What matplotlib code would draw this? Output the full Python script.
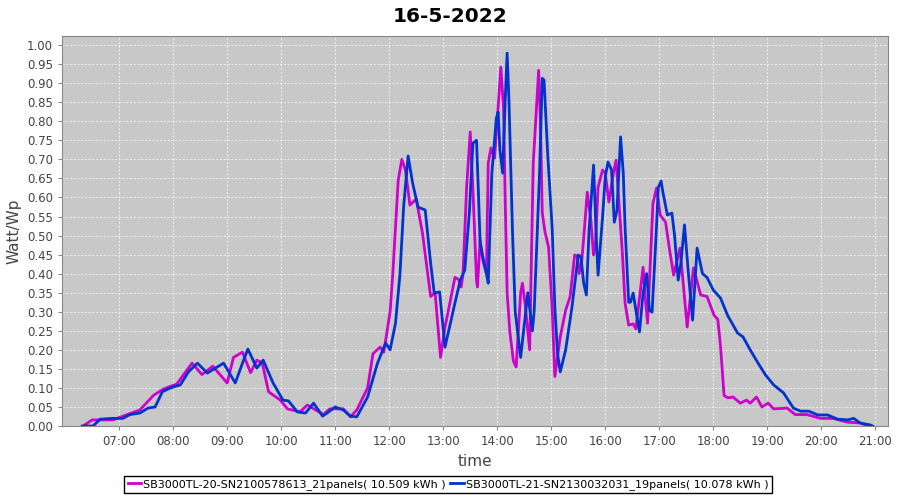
import matplotlib
matplotlib.use("Agg")
import matplotlib.pyplot as plt
import numpy as np

# SB3000TL-20 (magenta)
times_a = ["06:20", "06:30", "06:53", "07:09", "07:23", "07:38", "07:49", "08:04", "08:21", "08:32",
           "08:44", "09:00", "09:07", "09:17", "09:26", "09:33", "09:39", "09:46", "09:59", "10:07",
           "10:21", "10:29", "10:47", "10:54", "11:09", "11:17", "11:24", "11:36", "11:42", "11:50",
           "11:54", "12:01", "12:04", "12:10", "12:14", "12:18", "12:23", "12:30", "12:37", "12:46",
           "12:51", "12:57", "13:02", "13:08", "13:13", "13:17", "13:20", "13:22", "13:26", "13:30",
           "13:33", "13:37", "13:38", "13:41", "13:44", "13:48", "13:50", "13:53", "13:57", "14:01",
           "14:04", "14:07", "14:09", "14:11", "14:14", "14:18", "14:21", "14:26", "14:28", "14:31",
           "14:36", "14:40", "14:46", "14:48", "14:50", "14:53", "14:57", "15:01", "15:04", "15:10",
           "15:16", "15:21", "15:26", "15:29", "15:31", "15:34", "15:37", "15:40", "15:44", "15:47",
           "15:49", "15:52", "15:57", "16:00", "16:04", "16:09", "16:12", "16:14", "16:19", "16:22",
           "16:26", "16:31", "16:34", "16:39", "16:42", "16:44", "16:47", "16:50", "16:53", "16:57",
           "17:01", "17:07", "17:12", "17:16", "17:23", "17:31", "17:38", "17:46", "17:53", "18:01",
           "18:05", "18:08", "18:12", "18:16", "18:22", "18:30", "18:37", "18:41", "18:48", "18:54",
           "19:01", "19:07", "19:22", "19:31", "19:44", "19:59", "20:13", "20:29", "20:43", "20:52"]
vals_a = [0.0, 0.016, 0.016, 0.03, 0.042, 0.08, 0.097, 0.11, 0.165, 0.135,
          0.157, 0.113, 0.18, 0.194, 0.14, 0.173, 0.165, 0.09, 0.068, 0.045,
          0.037, 0.055, 0.03, 0.045, 0.045, 0.024, 0.042, 0.10, 0.19, 0.207,
          0.194, 0.30, 0.40, 0.645, 0.70, 0.672, 0.58, 0.596, 0.506, 0.34,
          0.35, 0.18, 0.26, 0.33, 0.39, 0.385, 0.365, 0.40, 0.627, 0.772,
          0.62, 0.383, 0.365, 0.488, 0.436, 0.40, 0.69, 0.73, 0.703, 0.837,
          0.942, 0.837, 0.575, 0.35, 0.247, 0.17, 0.155, 0.35, 0.375, 0.32,
          0.20, 0.69, 0.934, 0.795, 0.56, 0.51, 0.47, 0.31, 0.13, 0.234,
          0.304, 0.34, 0.449, 0.446, 0.40, 0.436, 0.522, 0.614, 0.54, 0.449,
          0.47, 0.627, 0.672, 0.664, 0.588, 0.664, 0.698, 0.627, 0.454, 0.323,
          0.265, 0.268, 0.255, 0.357, 0.417, 0.349, 0.27, 0.428, 0.585, 0.625,
          0.554, 0.535, 0.454, 0.396, 0.467, 0.26, 0.415, 0.344, 0.34, 0.29,
          0.28, 0.21, 0.08, 0.074, 0.076, 0.06, 0.068, 0.06, 0.076, 0.05,
          0.06, 0.045, 0.047, 0.03, 0.03, 0.02, 0.02, 0.01, 0.008, 0.0]

# SB3000TL-21 (blue)
times_b = ["06:19", "06:31", "06:39", "06:53", "07:04", "07:12", "07:23", "07:32", "07:40", "07:48",
           "07:57", "08:08", "08:17", "08:27", "08:38", "08:56", "09:09", "09:17", "09:23", "09:33",
           "09:40", "09:51", "10:02", "10:08", "10:18", "10:27", "10:36", "10:46", "10:51", "11:00",
           "11:09", "11:17", "11:24", "11:36", "11:47", "11:56", "12:01", "12:07", "12:12", "12:16",
           "12:21", "12:26", "12:32", "12:40", "12:46", "12:50", "12:56", "13:02", "13:08", "13:13",
           "13:19", "13:24", "13:29", "13:33", "13:37", "13:39", "13:41", "13:44", "13:48", "13:50",
           "13:54", "13:59", "14:01", "14:03", "14:06", "14:09", "14:11", "14:13", "14:17", "14:20",
           "14:26", "14:29", "14:34", "14:39", "14:41", "14:47", "14:50", "14:52", "14:56", "15:01",
           "15:04", "15:07", "15:10", "15:16", "15:23", "15:27", "15:30", "15:33", "15:36", "15:39",
           "15:42", "15:47", "15:50", "15:52", "15:57", "16:00", "16:03", "16:07", "16:10", "16:13",
           "16:17", "16:20", "16:22", "16:26", "16:28", "16:31", "16:34", "16:38", "16:42", "16:46",
           "16:49", "16:52", "16:56", "16:59", "17:02", "17:04", "17:09", "17:14", "17:17", "17:21",
           "17:24", "17:28", "17:32", "17:37", "17:42", "17:48", "17:53", "18:00", "18:08", "18:16",
           "18:27", "18:33", "18:41", "18:49", "18:58", "19:07", "19:18", "19:29", "19:37", "19:46",
           "19:56", "20:07", "20:18", "20:29", "20:36", "20:43", "20:54", "20:57"]
vals_b = [0.0, 0.0, 0.018, 0.02, 0.02, 0.03, 0.034, 0.047, 0.05, 0.09,
          0.10, 0.108, 0.142, 0.165, 0.139, 0.165, 0.113, 0.165, 0.202, 0.152,
          0.173, 0.113, 0.068, 0.066, 0.037, 0.034, 0.06, 0.026, 0.034, 0.05,
          0.042, 0.026, 0.024, 0.076, 0.165, 0.218, 0.20, 0.27, 0.40, 0.575,
          0.709, 0.638, 0.575, 0.567, 0.428, 0.349, 0.352, 0.207, 0.27, 0.323,
          0.383, 0.41, 0.56, 0.743, 0.75, 0.62, 0.48, 0.444, 0.40, 0.375,
          0.664, 0.808, 0.824, 0.724, 0.664, 0.864, 0.979, 0.856, 0.506, 0.30,
          0.18, 0.244, 0.35, 0.25, 0.30, 0.664, 0.913, 0.908, 0.716, 0.52,
          0.31, 0.19, 0.142, 0.2, 0.312, 0.39, 0.449, 0.444, 0.375, 0.344,
          0.514, 0.685, 0.496, 0.396, 0.549, 0.654, 0.693, 0.672, 0.535, 0.567,
          0.759, 0.664, 0.522, 0.325, 0.325, 0.349, 0.304, 0.247, 0.349, 0.40,
          0.304, 0.299, 0.48, 0.627, 0.643, 0.614, 0.554, 0.559, 0.50, 0.383,
          0.428, 0.528, 0.41, 0.278, 0.467, 0.40, 0.39, 0.357, 0.336, 0.29,
          0.244, 0.234, 0.2, 0.168, 0.134, 0.108, 0.087, 0.047, 0.039, 0.039,
          0.029, 0.029, 0.018, 0.016, 0.02, 0.008, 0.003, 0.0]

label_a = "SB3000TL-20-SN2100578613_21panels( 10.509 kWh )"
label_b = "SB3000TL-21-SN2130032031_19panels( 10.078 kWh )"
hour_ticks = list(range(7, 22))
tick_labels = ["%02d:00" % h for h in hour_ticks]


def to_hours(ts):
    return [int(t[:2]) + int(t[3:]) / 60.0 for t in ts]


fig = plt.figure(figsize=(9, 5), dpi=100)
ax = fig.add_axes([0.069, 0.148, 0.918, 0.78])
ax.set_facecolor("#c8c8c8")

ax.plot(to_hours(times_a), vals_a, color="#cc00cc", lw=2, label=label_a)
ax.plot(to_hours(times_b), vals_b, color="#0033cc", lw=2, label=label_b)

ax.set_xlim(5.944, 21.24)
ax.set_ylim(0, 1.024)
ax.set_xticks(hour_ticks)
ax.set_xticklabels(tick_labels)
ax.set_yticks(np.arange(0, 1.0001, 0.05))
ax.set_yticklabels(["%.2f" % v for v in np.arange(0, 1.0001, 0.05)])
ax.tick_params(labelsize=8.5, colors="#444444", length=3, color="#888888")
ax.grid(True, color="#f4f4f4", linestyle="--", linewidth=0.6, dashes=(2.5, 2))
for s in ax.spines.values():
    s.set_color("#888888")

ax.set_xlabel("time", fontsize=11, color="#444444", labelpad=4)
ax.set_ylabel("Watt/Wp", fontsize=11, color="#444444", labelpad=4)
fig.suptitle("16-5-2022", fontsize=14.5, fontweight="bold", y=0.985)

fig.legend(loc="lower center", bbox_to_anchor=(0.498, 0.002), ncol=2, fontsize=8,
           fancybox=False, edgecolor="black", framealpha=1, handlelength=1.2,
           handletextpad=0.2, columnspacing=0.4, borderpad=0.3)

fig.savefig("out.png", dpi=100)
